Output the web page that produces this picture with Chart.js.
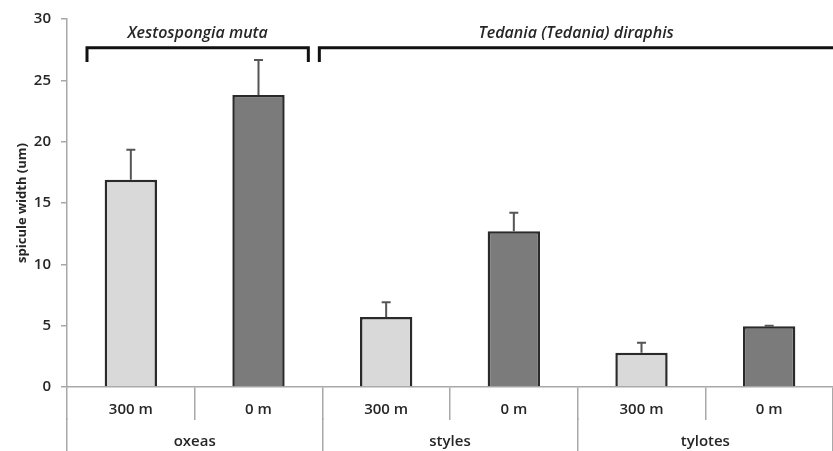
<!DOCTYPE html>
<html>
<head>
<meta charset="utf-8">
<script src="https://cdn.jsdelivr.net/npm/chart.js@4"></script>
<style>
  html, body { margin: 0; padding: 0; background: #fff; }
  #wrap { width: 833px; height: 451px; }
</style>
</head>
<body>
<div id="wrap"><canvas id="myChart"></canvas></div>
<script>
// depth of each sample, grouped by spicule type
const depths = ['300 m', '0 m', '300 m', '0 m', '300 m', '0 m'];
const spiculeTypes = ['oxeas', 'styles', 'tylotes'];
const meanWidth = [16.9, 23.8, 5.7, 12.7, 2.8, 4.95];
const errWidth = [2.45, 2.85, 1.2, 1.5, 0.8, 0.05];
const barColors = ['#d9d9d9', '#7b7b7b', '#d9d9d9', '#7b7b7b', '#d9d9d9', '#7b7b7b'];

// species brackets: first and last bar index covered
const species = ['Xestospongia muta', 'Tedania (Tedania) diraphis'];
const speciesFirst = [0, 2];
const speciesLast = [1, 5];

const gridGrey = '#a8a8a8';
const textColor = '#262626';

const errorBars = {
  id: 'errorBars',
  afterDatasetsDraw(chart) {
    const ctx = chart.ctx;
    const y = chart.scales.y;
    const meta = chart.getDatasetMeta(0);
    ctx.save();
    ctx.strokeStyle = '#555';
    ctx.lineWidth = 2;
    meta.data.forEach((bar, i) => {
      const top = y.getPixelForValue(meanWidth[i] + errWidth[i]);
      ctx.beginPath();
      ctx.moveTo(bar.x, bar.y);
      ctx.lineTo(bar.x, top);
      ctx.moveTo(bar.x - 4.5, top);
      ctx.lineTo(bar.x + 4.5, top);
      ctx.stroke();
    });
    ctx.restore();
  }
};

const speciesBrackets = {
  id: 'speciesBrackets',
  afterDraw(chart) {
    const ctx = chart.ctx;
    const x = chart.scales.x;
    const y = chart.scales.y;
    const lineY = y.getPixelForValue(27.65);
    const endY = y.getPixelForValue(26.5);
    const textY = y.getPixelForValue(28.85);
    ctx.save();
    ctx.strokeStyle = '#111';
    ctx.lineWidth = 3;
    ctx.fillStyle = textColor;
    ctx.font = 'italic 600 16px "Open Sans"';
    ctx.textAlign = 'center';
    ctx.textBaseline = 'middle';
    species.forEach((name, i) => {
      const left = i === 0 ? x.getPixelForValue(speciesFirst[i] - 0.5) + 20 : x.getPixelForValue(speciesFirst[i] - 0.5) - 3;
      const right = i === 0 ? x.getPixelForValue(speciesLast[i] + 0.5) - 14 : x.getPixelForValue(speciesLast[i] + 0.5) + 10;
      ctx.beginPath();
      ctx.moveTo(left, endY);
      ctx.lineTo(left, lineY);
      ctx.lineTo(right, lineY);
      if (right < chart.width - 5) ctx.lineTo(right, endY);
      ctx.stroke();
      const mid = (left + Math.min(right, chart.width)) / 2;
      ctx.fillText(name, mid, textY);
    });
    ctx.restore();
  }
};

const ctx = document.getElementById('myChart').getContext('2d');
const chart = new Chart(ctx, {
  type: 'bar',
  data: {
    labels: depths,
    datasets: [{
      data: meanWidth,
      backgroundColor: barColors,
      borderColor: '#2a2a2a',
      borderWidth: 2.5,
      barPercentage: 0.41,
      categoryPercentage: 1
    }]
  },
  options: {
    responsive: true,
    maintainAspectRatio: false,
    animation: false,
    layout: { padding: { top: 16, left: 0, right: 0, bottom: 0 } },
    plugins: { legend: { display: false }, tooltip: { enabled: false } },
    scales: {
      y: {
        min: 0,
        max: 30,
        ticks: { stepSize: 5, color: textColor, font: { family: 'Open Sans', size: 15, weight: '600' }, padding: 10 },
        grid: { drawOnChartArea: false, tickLength: 6, color: gridGrey, lineWidth: 1.5 },
        border: { color: gridGrey, width: 1.5 },
        title: {
          display: true,
          text: 'spicule width (um)',
          color: textColor,
          font: { family: 'Open Sans', size: 13, weight: 'bold' },
          padding: { top: 14, bottom: 0 }
        },
        afterFit(s) { s.width = 67; }
      },
      x: {
        weight: 0,
        offset: true,
        ticks: { color: textColor, font: { family: 'Open Sans', size: 15, weight: '600' }, padding: -19, maxRotation: 0 },
        grid: { offset: true, drawOnChartArea: false, tickLength: 33, color: gridGrey, lineWidth: 1.5 },
        border: { color: gridGrey, width: 1.5 },
        afterFit(s) { s.height = 31; }
      },
      x2: {
        type: 'category',
        position: 'bottom',
        weight: 1,
        labels: spiculeTypes,
        offset: true,
        ticks: { color: textColor, font: { family: 'Open Sans', size: 15, weight: '600' }, padding: -18, maxRotation: 0 },
        grid: { offset: true, drawOnChartArea: false, tickLength: 33, color: gridGrey, lineWidth: 1.5 },
        border: { display: false },
        afterFit(s) { s.height = 33; }
      }
    }
  },
  plugins: [errorBars, speciesBrackets]
});
</script>
</body>
</html>
